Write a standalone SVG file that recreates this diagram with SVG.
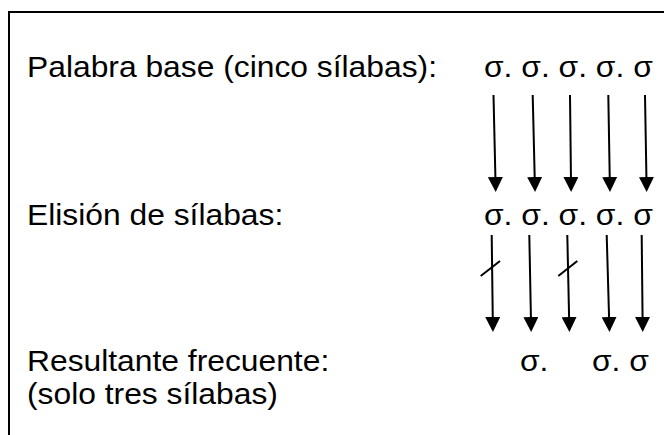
<svg xmlns="http://www.w3.org/2000/svg" width="664" height="435" viewBox="0 0 664 435">
<style>
  .t { font-family: "Liberation Sans", Arial, sans-serif; font-size: 30px; fill: #000; }
  .c { stroke: #000; stroke-width: 2; fill: none; }
</style>
<defs>
  <marker id="ah" markerUnits="userSpaceOnUse" markerWidth="15" markerHeight="15" refX="5" refY="7.5" orient="auto">
    <path d="M0,0 L15,7.5 L0,15 z" fill="#000"/>
  </marker>
</defs>
<rect x="0" y="0" width="664" height="435" fill="#fff"/>
<rect x="9" y="12" width="700" height="460" fill="none" stroke="#000" stroke-width="2"/>

<g id="row-base">
  <text class="t" transform="matrix(1.06 0 0 1 27 77)">Palabra base (cinco sílabas):</text>
  <text class="t" transform="matrix(1.06 0 0 1 484 77)">σ. σ. σ. σ. σ</text>
</g>
<g id="row-elision">
  <text class="t" transform="matrix(1.06 0 0 1 27 225)">Elisión de sílabas:</text>
  <text class="t" transform="matrix(1.06 0 0 1 484 225)">σ. σ. σ. σ. σ</text>
</g>
<g id="row-result">
  <text class="t" transform="matrix(1.06 0 0 1 27 371)">Resultante frecuente:</text>
  <text class="t" transform="matrix(1.06 0 0 1 27 404)">(solo tres sílabas)</text>
  <text class="t" transform="matrix(1.06 0 0 1 520 371)">σ.</text>
  <text class="t" transform="matrix(1.06 0 0 1 592 371)">σ. σ</text>
</g>

<g id="connectors">
  <line class="c" x1="493.5" y1="95" x2="495.5" y2="182" marker-end="url(#ah)"/>
  <line class="c" x1="532.7" y1="95" x2="534.8" y2="182" marker-end="url(#ah)"/>
  <line class="c" x1="570" y1="95" x2="571" y2="182" marker-end="url(#ah)"/>
  <line class="c" x1="608.3" y1="95" x2="609.8" y2="182" marker-end="url(#ah)"/>
  <line class="c" x1="645" y1="95" x2="646.5" y2="182" marker-end="url(#ah)"/>

  <line class="c" x1="491.7" y1="235" x2="492.8" y2="322" marker-end="url(#ah)"/>
  <line class="c" x1="529.3" y1="235" x2="531" y2="322" marker-end="url(#ah)"/>
  <line class="c" x1="567.3" y1="235" x2="569.2" y2="322" marker-end="url(#ah)"/>
  <line class="c" x1="606.7" y1="235" x2="609.2" y2="322" marker-end="url(#ah)"/>
  <line class="c" x1="641.7" y1="235" x2="642.6" y2="322" marker-end="url(#ah)"/>

  <line class="c" x1="480.7" y1="276" x2="500" y2="261"/>
  <line class="c" x1="558.3" y1="276" x2="577.3" y2="261"/>
</g>
</svg>
